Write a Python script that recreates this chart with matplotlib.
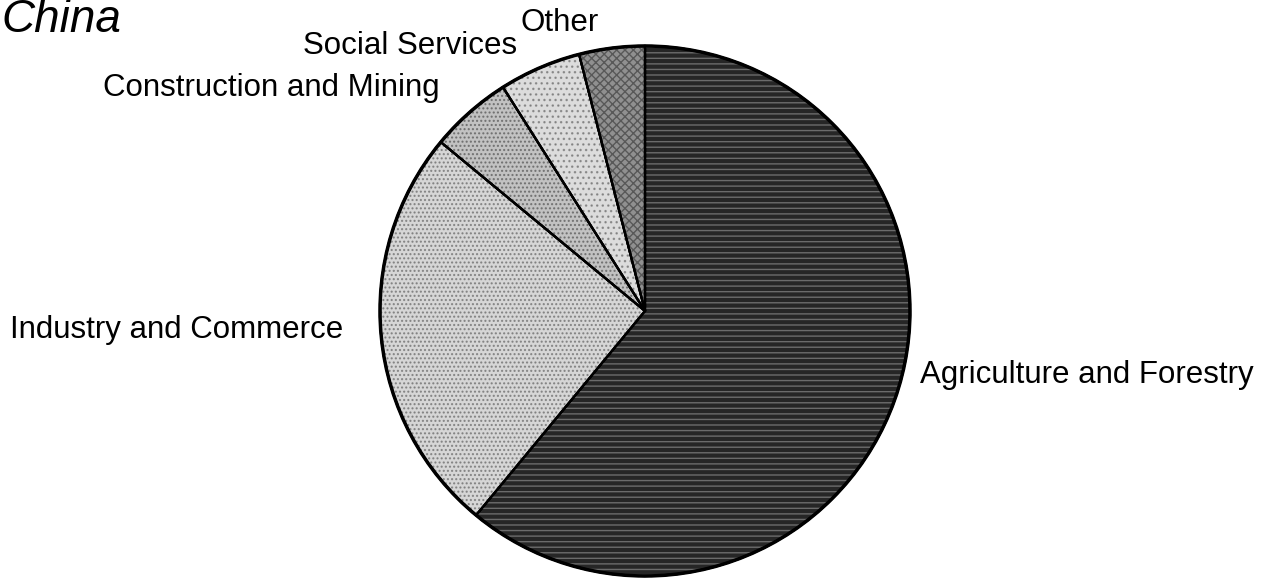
import matplotlib
matplotlib.use("Agg")
import matplotlib.pyplot as plt

sectors = ["Agriculture and Forestry", "Industry and Commerce",
           "Construction and Mining", "Social Services", "Other"]
shares = [61, 25, 5, 5, 4]
title = "China"

W, H = 1275, 578
fig = plt.figure(figsize=(W / 100, H / 100), dpi=100)
ax = fig.add_axes([0, 0, 1, 1])
ax.set_xlim(0, W)
ax.set_ylim(0, H)
ax.set_aspect("equal")
ax.axis("off")

fills = ["#262626", "#d6d6d6", "#c2c2c2", "#dcdcdc", "#909090"]
hatches = ["---", "....", "....", "...", "xxxx"]
hatch_colors = ["#9a9a9a", "#555555", "#444444", "#666666", "#333333"]

center = (645, H - 311)
radius = 265

wedges, _ = ax.pie(shares, startangle=90, counterclock=False,
                   center=center, radius=radius, colors=fills,
                   wedgeprops=dict(edgecolor="black", linewidth=1.6))

# texture layer on top of the solid fills
tex, _ = ax.pie(shares, startangle=90, counterclock=False,
                center=center, radius=radius,
                wedgeprops=dict(facecolor="none", linewidth=0))
for w, h, c in zip(tex, hatches, hatch_colors):
    w.set_hatch(h)
    w.set_edgecolor(c)
    w.set_alpha(0.6)

# outline on top
outl, _ = ax.pie(shares, startangle=90, counterclock=False,
                 center=center, radius=radius,
                 wedgeprops=dict(facecolor="none", edgecolor="black",
                                 linewidth=1.6))
ax.add_patch(plt.Circle(center, radius, fill=False, edgecolor="black",
                        linewidth=2.5))
ax.set_xlim(0, W)
ax.set_ylim(0, H)

font = "Liberation Sans"
fs = 22.5
label_pos = {
    "Agriculture and Forestry": (920, 375),
    "Industry and Commerce": (10, 330),
    "Construction and Mining": (103, 88),
    "Social Services": (303, 46),
    "Other": (520, 23),
}
for name in sectors:
    x, y = label_pos[name]
    ax.text(x, H - y, name, ha="left", va="center", fontsize=fs,
            family=font, color="black")

ax.text(1, H - 32, title, ha="left", va="baseline", fontsize=33,
        family=font, style="italic", color="black")

fig.savefig("out.png", dpi=100)
